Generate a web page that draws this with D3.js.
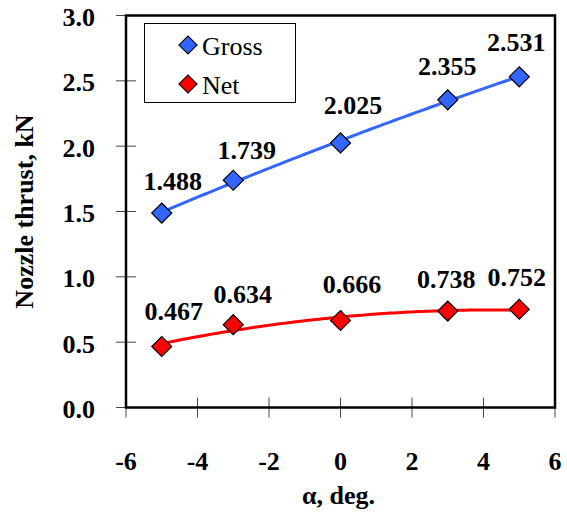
<!DOCTYPE html>
<html>
<head>
<meta charset="utf-8">
<script src="https://cdn.jsdelivr.net/npm/d3@7"></script>
<style>
  html, body { margin: 0; padding: 0; background: #fff; }
  svg { display: block; }
</style>
</head>
<body>
<svg id="chart" width="567" height="513"></svg>
<script>
// Nozzle thrust vs. angle of attack
const alphaDeg = [-5, -3, 0, 3, 5];
const grossThrust = [1.488, 1.739, 2.025, 2.355, 2.531];
const netThrust = [0.467, 0.634, 0.666, 0.738, 0.752];
const xTicks = [-6, -4, -2, 0, 2, 4, 6];
const yTicks = [0.0, 0.5, 1.0, 1.5, 2.0, 2.5, 3.0];
const seriesNames = ["Gross", "Net"];

// hand-placed value label nudges (px): [dx, dy] from the marker centre to the label baseline
const grossLabelNudge = [[11, -23.5], [13.5, -21.5], [12.5, -28.5], [-0.5, -24.5], [-3, -26]];
const netLabelNudge = [[12, -26.5], [9.5, -22], [11.5, -27.5], [-1.5, -23.5], [-2.5, -23.5]];

const svg = d3.select("#chart");
const plot = { left: 126, right: 555, top: 15.5, bottom: 407.5 };
const FONT = 26;
const FAMILY = "Liberation Serif";

const x = d3.scaleLinear().domain([-6, 6]).range([plot.left, plot.right]);
const y = d3.scaleLinear().domain([0, 3]).range([plot.bottom, plot.top]);

// second-order least-squares trendline
function quadFit(xs, ys) {
  const n = xs.length;
  let s = [0, 0, 0, 0, 0], t = [0, 0, 0];
  for (let i = 0; i < n; i++) {
    for (let k = 0; k <= 4; k++) s[k] += Math.pow(xs[i], k);
    for (let k = 0; k <= 2; k++) t[k] += Math.pow(xs[i], k) * ys[i];
  }
  const A = [[s[0], s[1], s[2], t[0]], [s[1], s[2], s[3], t[1]], [s[2], s[3], s[4], t[2]]];
  for (let c = 0; c < 3; c++) {
    for (let r = c + 1; r < 3; r++) {
      const f = A[r][c] / A[c][c];
      for (let k = c; k < 4; k++) A[r][k] -= f * A[c][k];
    }
  }
  const b = [0, 0, 0];
  for (let r = 2; r >= 0; r--) {
    let v = A[r][3];
    for (let k = r + 1; k < 3; k++) v -= A[r][k] * b[k];
    b[r] = v / A[r][r];
  }
  return v => b[0] + b[1] * v + b[2] * v * v;
}

const series = [
  { name: seriesNames[0], values: grossThrust, color: "#3366FF", nudge: grossLabelNudge },
  { name: seriesNames[1], values: netThrust, color: "#FF0000", nudge: netLabelNudge }
];

function label(sel) {
  return sel.attr("font-family", FAMILY).attr("font-size", FONT).attr("fill", "#000");
}

// ticks: small crosses straddling the axes
const tickLen = 10;
svg.append("g").selectAll("line").data(yTicks).join("line")
  .attr("x1", plot.left - tickLen).attr("x2", plot.left + tickLen)
  .attr("y1", d => y(d)).attr("y2", d => y(d))
  .attr("stroke", "#444").attr("stroke-width", 1);
svg.append("g").selectAll("line").data(xTicks).join("line")
  .attr("x1", d => x(d)).attr("x2", d => x(d))
  .attr("y1", plot.bottom - tickLen).attr("y2", plot.bottom + tickLen)
  .attr("stroke", "#444").attr("stroke-width", 1);

// plot frame
svg.append("rect")
  .attr("x", plot.left).attr("y", plot.top)
  .attr("width", plot.right - plot.left).attr("height", plot.bottom - plot.top)
  .attr("fill", "none").attr("stroke", "#000").attr("stroke-width", 2.5);

// tick labels
svg.append("g").selectAll("text").data(yTicks).join("text")
  .call(label)
  .attr("x", 95).attr("y", d => y(d) + 10.5)
  .attr("text-anchor", "end").attr("font-weight", "bold")
  .text(d => d.toFixed(1));
svg.append("g").selectAll("text").data(xTicks).join("text")
  .call(label)
  .attr("x", d => x(d)).attr("y", 470)
  .attr("text-anchor", "middle").attr("font-weight", "bold")
  .text(d => d);

// axis titles
svg.append("text")
  .call(label)
  .attr("x", (plot.left + plot.right) / 2 - 2).attr("y", 504)
  .attr("text-anchor", "middle").attr("font-weight", "bold")
  .text("α, deg.");
svg.append("text")
  .call(label)
  .attr("transform", `translate(33,${(plot.top + plot.bottom) / 2}) rotate(-90)`)
  .attr("text-anchor", "middle").attr("font-weight", "bold")
  .text("Nozzle thrust, kN");

// trendlines
const xs = d3.range(alphaDeg[0], alphaDeg[alphaDeg.length - 1] + 0.001, 0.1);
const line = d3.line().x(d => x(d[0])).y(d => y(d[1]));
series.forEach(s => {
  const f = quadFit(alphaDeg, s.values);
  svg.append("path")
    .attr("d", line(xs.map(v => [v, f(v)])))
    .attr("fill", "none").attr("stroke", s.color).attr("stroke-width", 3);
});

// markers
const diamond = d3.symbol().type(d3.symbolSquare).size(200);
series.forEach(s => {
  svg.append("g").selectAll("path").data(s.values).join("path")
    .attr("d", diamond)
    .attr("transform", (d, i) => `translate(${x(alphaDeg[i])},${y(d)}) rotate(45)`)
    .attr("fill", s.color).attr("stroke", "#000").attr("stroke-width", 1.2);
});

// value labels
series.forEach(s => {
  svg.append("g").selectAll("text").data(s.values).join("text")
    .call(label)
    .attr("x", (d, i) => x(alphaDeg[i]) + s.nudge[i][0])
    .attr("y", (d, i) => y(d) + s.nudge[i][1])
    .attr("text-anchor", "middle").attr("font-weight", "bold")
    .text(d => d.toFixed(3));
});

// legend
const legend = svg.append("g");
legend.append("rect")
  .attr("x", 144.5).attr("y", 23.5).attr("width", 151).attr("height", 79)
  .attr("fill", "#fff").attr("stroke", "#000").attr("stroke-width", 1);
const legendSymbol = d3.symbol().type(d3.symbolSquare).size(162);
series.forEach((s, i) => {
  const cy = 45 + i * 39;
  legend.append("path")
    .attr("d", legendSymbol)
    .attr("transform", `translate(188,${cy}) rotate(45)`)
    .attr("fill", s.color).attr("stroke", "#000").attr("stroke-width", 1.2);
  legend.append("text")
    .call(label)
    .attr("x", 202).attr("y", cy + 9.5)
    .text(s.name);
});
</script>
</body>
</html>
